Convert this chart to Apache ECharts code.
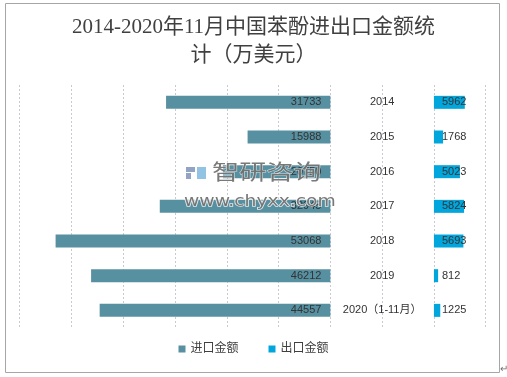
<!DOCTYPE html>
<html>
<head>
<meta charset="utf-8">
<script src="https://cdn.jsdelivr.net/npm/echarts@6/dist/echarts.min.js"></script>
<style>html,body{margin:0;padding:0;background:#fff;}#c{width:507px;height:377px;}</style>
</head>
<body>
<div id="c"></div>
<script>
const titleText = '2014-2020年11月中国苯酚进出口金额统\n计（万美元）';
const categories = ['2014', '2015', '2016', '2017', '2018', '2019', '2020（1-11月）'];
const importValues = [31733, 15988, 20750, 32945, 53068, 46212, 44557];
const exportValues = [5962, 1768, 5023, 5824, 5693, 812, 1225];
const seriesNames = ['进口金额', '出口金额'];
const middleGap = 20000;

const chart = echarts.init(document.getElementById('c'), null, {renderer: 'canvas'});
const labelFont = "'Liberation Sans','Noto Sans CJK SC',sans-serif";
chart.setOption({
  animation: false,
  backgroundColor: '#fff',
  legend: {
    data: seriesNames,
    bottom: 17,
    left: 'center',
    icon: 'rect',
    itemWidth: 7,
    itemHeight: 7,
    itemGap: 30,
    textStyle: {fontFamily: labelFont, fontSize: 12, color: '#404040'}
  },
  grid: {left: 19.7, top: 85, width: 466, height: 242.7, containLabel: false},
  xAxis: {
    type: 'value',
    min: -60000,
    max: 30000,
    interval: 10000,
    axisLabel: {show: false},
    axisLine: {show: false},
    axisTick: {show: false},
    splitLine: {show: true, lineStyle: {color: '#c9c9d3', type: [2, 2], width: 1}}
  },
  yAxis: {
    type: 'category',
    data: categories,
    inverse: true,
    axisLabel: {show: false},
    axisLine: {show: false},
    axisTick: {show: false},
    splitLine: {show: false}
  },
  series: [
    {
      name: seriesNames[0],
      type: 'bar',
      stack: 'a',
      barWidth: 13,
      data: importValues.map(v => -v),
      itemStyle: {color: '#5790A1'},
      label: {
        show: true,
        position: 'insideRight',
        distance: 9,
        formatter: p => String(Math.abs(p.value)),
        fontFamily: labelFont,
        fontSize: 11,
        color: '#333'
      }
    },
    {
      name: 'gap',
      type: 'bar',
      stack: 'a',
      barWidth: 13,
      data: categories.map(() => middleGap),
      itemStyle: {color: 'rgba(0,0,0,0)'},
      emphasis: {disabled: true},
      label: {
        show: true,
        position: 'inside',
        formatter: '{b}',
        fontFamily: labelFont,
        fontSize: 11,
        color: '#333'
      }
    },
    {
      name: seriesNames[1],
      type: 'bar',
      stack: 'a',
      barWidth: 13,
      data: exportValues,
      itemStyle: {color: '#00A6DC'},
      label: {
        show: true,
        position: 'insideLeft',
        distance: 8,
        formatter: '{c}',
        fontFamily: labelFont,
        fontSize: 11,
        color: '#333'
      }
    }
  ],
  graphic: [
    {type: 'text', x: 253.5, y: 13, z: 100, style: {text: titleText, textAlign: 'center', fontSize: 21, lineHeight: 28, fontFamily: "'Liberation Serif','Noto Sans CJK SC',serif", fill: '#404040'}},
    {type: 'rect', z: 100, shape: {x: 5.5, y: 3.5, width: 494, height: 369}, style: {fill: 'none', stroke: '#a6a6a6', lineWidth: 1}, silent: true},
    {type: 'text', z: 100, x: 500, y: 364, style: {text: '↵', fontSize: 10, fill: '#707070', fontFamily: labelFont}},
    {type: 'rect', z: 100, shape: {x: 186, y: 167, width: 9, height: 5}, style: {fill: 'rgba(120,140,180,0.8)'}},
    {type: 'rect', z: 100, shape: {x: 186, y: 173, width: 5, height: 6}, style: {fill: 'rgba(120,140,180,0.8)'}},
    {type: 'rect', z: 100, shape: {x: 197, y: 167, width: 9, height: 12}, style: {fill: 'rgba(120,180,220,0.8)'}},
    {type: 'text', z: 100, x: 212, y: 161, scaleX: 1.3, style: {text: '智研咨询', fontSize: 21, fontFamily: "'Noto Sans CJK SC',sans-serif", fill: 'rgba(110,110,110,0.92)', stroke: 'rgba(255,255,255,0.7)', lineWidth: 1}},
    {type: 'text', z: 100, x: 184, y: 195, scaleX: 1.25, style: {text: 'www.chyxx.com', fontSize: 15, fontFamily: "'DejaVu Sans',sans-serif", fill: 'rgba(105,105,105,0.9)', stroke: 'rgba(255,255,255,0.8)', lineWidth: 1.5}}
  ]
});
</script>
</body>
</html>
